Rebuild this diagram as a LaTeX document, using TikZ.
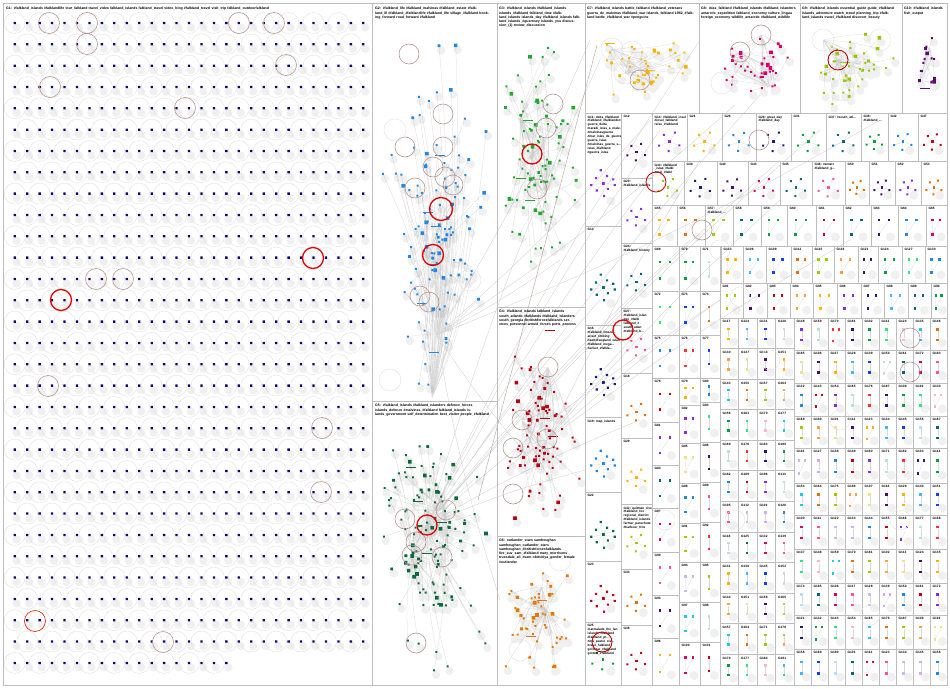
\documentclass[tikz,border=0pt]{standalone}
\usepackage{fontspec}
\setmainfont{Liberation Sans}
\usetikzlibrary{calc}
\definecolor{panelc}{HTML}{BDBDBD}
\definecolor{navyc}{HTML}{0A0A6E}
\definecolor{g2c}{HTML}{1E88E5}
\definecolor{g3c}{HTML}{1FAA2E}
\definecolor{g4c}{HTML}{B80010}
\definecolor{g5c}{HTML}{0C6B3C}
\definecolor{g6c}{HTML}{E67700}
\definecolor{g7c}{HTML}{F7B500}
\definecolor{g8c}{HTML}{D0006F}
\definecolor{g9c}{HTML}{97C500}
\definecolor{g10c}{HTML}{5C0A6E}
\definecolor{brownc}{HTML}{B89494}
\definecolor{pal0}{HTML}{4B0A6E}
\definecolor{pal1}{HTML}{00667A}
\definecolor{pal2}{HTML}{1E88E5}
\definecolor{pal3}{HTML}{1A1A7A}
\definecolor{pal4}{HTML}{E07000}
\definecolor{pal5}{HTML}{FFB300}
\definecolor{pal6}{HTML}{D6006E}
\definecolor{pal7}{HTML}{C00010}
\definecolor{pal8}{HTML}{00A03C}
\definecolor{pal9}{HTML}{9ACD00}
\definecolor{pal10}{HTML}{3FB8FF}
\definecolor{pal11}{HTML}{FF4FA0}
\definecolor{pal12}{HTML}{8A2BE2}
\definecolor{pal13}{HTML}{2BE87A}
\definecolor{pal14}{HTML}{FFA040}
\definecolor{pal15}{HTML}{1040FF}
\definecolor{pal16}{HTML}{C9B8F0}
\definecolor{pal17}{HTML}{A8ECD0}
\definecolor{pal18}{HTML}{F8B8C8}
\definecolor{pal19}{HTML}{F0E080}
\definecolor{pal20}{HTML}{B8DCF8}
\definecolor{pal21}{HTML}{D8A8F8}
\definecolor{pal22}{HTML}{FF3030}
\definecolor{pal23}{HTML}{20C8E8}
\tikzset{
  panel/.style={draw=panelc, line width=0.9pt},
  vx/.style={rectangle, inner sep=0pt, minimum size=#1, draw=none},
  vx/.default=2.4pt,
  lnk/.style={draw=gray!30, line width=0.25pt},
  longlnk/.style={draw=gray!35, line width=0.35pt},
  faint/.style={draw=gray!22, line width=0.45pt},
  brownring/.style={draw=brownc, line width=0.6pt},
  redring/.style={draw=red!90!black, line width=1.3pt},
  shd/.style={fill=black, opacity=0.06},
  ttl/.style={anchor=north west, inner sep=0pt, font=\fontsize{3.5}{4.3}\selectfont\bfseries, align=left, text width=#1},
  ttl/.default=100pt,
  clab/.style={anchor=north west, inner sep=0pt, font=\fontsize{3.2}{3.9}\selectfont\bfseries, align=left},
}
% cluster: name, cx, cy, sx, sy, N, color, seed
\newcommand\gclust[8]{%
  \pgfmathsetseed{#8}%
  \foreach \i in {1,...,#6}{%
    \pgfmathsetmacro\px{#2+#4*rand*(0.25+0.75*rnd)}%
    \pgfmathsetmacro\py{#3+#5*rand*(0.25+0.75*rnd)}%
    \coordinate (#1n\i) at (\px,\py);
  }%
  \draw[lnk] \foreach \i in {3,6,...,#6}{(#1n\i) to[bend left=6] (#1h0)};
  \draw[lnk] \foreach \i in {1,4,...,#6}{(#1n\i) to[bend left=6] (#1h1)};
  \draw[lnk] \foreach \i in {2,5,...,#6}{(#1n\i) to[bend right=6] (#1h2)};
  \fill[shd] \foreach \i in {1,...,#6}{(#1n\i) ++(2,4.5) circle (4.2)};
  \fill[#7] \foreach \i in {1,...,#6}{(#1n\i) ++(-1,-1) rectangle ++(2,2)};
  \fill[#7] \foreach \i in {5,12,...,#6}{(#1n\i) ++(-1.8,-1.8) rectangle ++(3.6,3.6)};
  \fill[#7] \foreach \i in {2,9,...,#6}{(#1n\i) ++(-1.4,-1.4) rectangle ++(2.8,2.8)};
}
% cell: x1,y1,x2,y2,name,color,type,label
\newcommand\gcell[8]{%
  \draw[panel] (#1,#2) rectangle (#3,#4);
  \pgfmathsetmacro\cellw{#3-#1}%
  \pgfmathsetmacro\cellh{#4-#2}%
  \pgfmathsetmacro\cellr{0.3*min(\cellw,\cellh)}%
  \fill[shd] (#1+0.72*\cellw,#2+0.78*\cellh) circle (4.5);
  \ifnum#7=0
    \node[vx=2.4pt, fill=#6] (#5a) at (#1+0.45*\cellw,#2+0.36*\cellh) {};
    \node[vx=2.4pt, fill=#6] (#5b) at (#1+0.45*\cellw,#2+0.68*\cellh) {};
    \draw[lnk] (#5a) -- (#5b);
  \fi
  \ifnum#7=1
    \node[vx=2.4pt, fill=#6] (#5a) at (#1+0.3*\cellw,#2+0.36*\cellh) {};
    \node[vx=2.4pt, fill=#6] (#5b) at (#1+0.66*\cellw,#2+0.36*\cellh) {};
    \node[vx=2.6pt, fill=#6] (#5c) at (#1+0.3*\cellw,#2+0.72*\cellh) {};
    \draw[lnk] (#5a) -- (#5c) (#5b) -- (#5c);
  \fi
  \ifnum#7=2
    \node[vx=2.8pt, fill=#6] (#5a) at (#1+0.5*\cellw,#2+0.6*\cellh) {};
    \foreach \ang/\rad in {20/1.0,95/0.9,160/1.05,230/0.85,300/1.0}{%
      \coordinate (#5l\ang) at ($(#5a)+(\ang:{\rad*\cellr})$);
    }
    \draw[lnk] \foreach \ang in {20,95,160,230,300}{(#5a) -- (#5l\ang)};
    \fill[#6] \foreach \ang in {20,95,160,230,300}{(#5l\ang) ++(-1,-1) rectangle ++(2,2)};
  \fi
  \ifnum#7=3
    \node[vx=3pt, fill=#6] (#5a) at (#1+0.5*\cellw,#2+0.62*\cellh) {};
    \foreach \ang/\rad in {10/1.1,50/0.7,85/1.2,130/0.9,170/1.1,215/0.8,260/1.2,300/0.75,340/1.0}{%
      \coordinate (#5l\ang) at ($(#5a)+(\ang:{\rad*\cellr})$);
    }
    \draw[lnk] \foreach \ang in {10,50,85,130,170,215,260,300,340}{(#5a) -- (#5l\ang)};
    \fill[#6] \foreach \ang in {10,50,85,130,170,215,260,300,340}{(#5l\ang) ++(-1.1,-1.1) rectangle ++(2.2,2.2)};
  \fi
  \node[clab] (#5t) at (#1+2.5,#2+2.5) {#8};
}
\begin{document}
\begin{tikzpicture}[x=1pt,y=-1pt]
\useasboundingbox (0,0) rectangle (950,688);
\fill[white] (0,0) rectangle (950,688);

% ---------- long connectors crossing panels
\coordinate (g5h0) at (427,525);
\coordinate (g5h1) at (412,555);
\coordinate (g5h2) at (445,510);
\coordinate (g2h0) at (432,398);
\coordinate (g2h1) at (437,335);
\coordinate (g2h2) at (428,262);
\coordinate (g4h0) at (547,440);
\coordinate (g4h1) at (522,420);
\coordinate (g4h2) at (548,367);
\foreach \ex/\ey [count=\n] in {700/40,760/95,820/130,650/180,690/240,600/300,640/420,585/470,720/300,660/130,600/60,780/160}{
  \coordinate (ea\n) at (\ex,\ey);
}
\draw[longlnk] \foreach \n in {1,...,12}{(g5h0) to[bend left=4] (ea\n)};
\foreach \ex/\ey [count=\n] in {590/40,735/105,560/260,650/120,880/120,540/470,500/600}{
  \coordinate (eb\n) at (\ex,\ey);
}
\draw[longlnk] \foreach \n in {1,...,7}{(g2h1) to[bend right=4] (eb\n)};
\foreach \ex/\ey [count=\n] in {700/160,780/200,720/300,850/240,640/330}{
  \coordinate (ec\n) at (\ex,\ey);
}
\draw[longlnk] \foreach \n in {1,...,5}{(g4h0) to[bend left=3] (ec\n)};
\coordinate (pk1) at (597,45);
\coordinate (pk2) at (478,500);
\draw[draw=brownc!80, line width=0.5pt] (pk1) -- (pk2);

% ---------- G1 grid (30 full rows + a partial last row)
\fill[shd] \foreach \r in {0,...,29}{\foreach \c in {0,...,28}{({14.7+12.45*\c+2},{23+21.33*\r+4.5}) circle (4.2)}};
\fill[shd] \foreach \c in {0,...,17}{({14.7+12.45*\c+2},{23+21.33*30+4.5}) circle (4.2)};
\draw[faint] \foreach \r in {0,...,29}{\foreach \c in {0,2,...,27}{({14.7+12.45*\c+12.45*mod(\r,2)},{23+21.33*\r}) circle (10.5)}};
\draw[faint] \foreach \c in {0,2,...,17}{({14.7+12.45*\c},{23+21.33*30}) circle (10.5)};
\fill[navyc] \foreach \r in {0,...,29}{\foreach \c in {0,...,28}{({14.7+12.45*\c-1.15},{23+21.33*\r-1.15}) rectangle ++(2.3,2.3)}};
\fill[navyc] \foreach \c in {0,...,17}{({14.7+12.45*\c-1.15},{23+21.33*30-1.15}) rectangle ++(2.3,2.3)};
\draw[brownring] \foreach \cx/\cy in {49/23,87/23,239/23,274/23,87/44,286/65,50/87,185/108,96/279,123/279,48/386,322/428,321/492,163/642}{(\cx,\cy) circle (10.5)};
\draw[draw=red!60!brown, line width=0.7pt] (35,621) circle (10.5);
\draw[redring] (313,258) circle (10.5);
\draw[redring] (61,300) circle (10.5);

% ---------- clusters
\begin{scope}
\clip (372,30) rectangle (497,401);
\gclust{g2}{435}{215}{58}{178}{110}{g2c}{11}
\end{scope}
\coordinate (g3h0) at (532,154);
\coordinate (g3h1) at (545,195);
\coordinate (g3h2) at (520,120);
\begin{scope}
\clip (497,30) rectangle (585,307);
\gclust{g3}{540}{165}{42}{130}{85}{g3c}{23}
\end{scope}
\begin{scope}
\clip (497,335) rectangle (585,536);
\gclust{g4}{542}{430}{42}{100}{78}{g4c}{37}
\end{scope}
\begin{scope}
\clip (372,420) rectangle (497,685);
\gclust{g5}{430}{548}{60}{130}{125}{g5c}{41}
\end{scope}
\coordinate (g6h0) at (542,587);
\coordinate (g6h1) at (546,611);
\coordinate (g6h2) at (546,611);
\begin{scope}
\clip (497,565) rectangle (585,685);
\gclust{g6}{542}{620}{38}{60}{50}{g6c}{53}
\end{scope}
\coordinate (g7h0) at (612,49);
\coordinate (g7h1) at (640,70);
\coordinate (g7h2) at (625,73);
\begin{scope}
\clip (585,24) rectangle (699,113);
\gclust{g7}{642}{66}{52}{40}{42}{g7c}{61}
\end{scope}
\coordinate (g8h0) at (740,52);
\coordinate (g8h1) at (769,87);
\coordinate (g8h2) at (761,35);
\begin{scope}
\clip (699,24) rectangle (800,113);
\gclust{g8}{752}{68}{46}{40}{38}{g8c}{71}
\end{scope}
\coordinate (g9h0) at (838,60);
\coordinate (g9h1) at (853,63);
\coordinate (g9h2) at (823,40);
\begin{scope}
\clip (800,24) rectangle (902,113);
\gclust{g9}{852}{68}{46}{40}{40}{g9c}{83}
\end{scope}
\coordinate (g10h0) at (925,60);
\coordinate (g10h1) at (920,80);
\coordinate (g10h2) at (930,50);
\begin{scope}
\clip (902,24) rectangle (947,113);
\gclust{g10}{925}{68}{18}{36}{16}{g10c}{97}
\end{scope}

% label bars
\foreach \bx/\by/\bc in {440/155/g2c,436/226/g2c,422/303/g2c,434/352/g2c,428/212/g2c,433/264/g2c,528/120/g3c,521/178/g3c,530/200/g3c,550/330/g4c,545/418/g4c,553/436/g4c,411/467/g5c,418/501/g5c,427/553/g5c,442/522/g5c,542/600/g6c,531/636/g6c,610/43/g7c,650/70/g7c,845/62/g9c,925/88/g10c}{
  \draw[\bc, line width=0.7pt] (\bx-5,\by) -- (\bx+5,\by);
}

% rings in clusters
\draw[brownring] \foreach \cx/\cy in {409/54,443/114,405/147,443/147,433/167,445/177,453/185,415/188,420/296,429/302,553/104,546/128,537/189,548/367,522/420,547/439,513/448,513/494,405/519,446/510,416/542,412/555,442/557,416/643,761/35,740/52}{(\cx,\cy) circle (10)};
\draw[faint] \foreach \cx/\cy in {612/49,632/52,625/73,643/72,722/83,745/68,823/40,853/63,843/90,395/130,390/380,470/280,560/560,520/650,880/40}{(\cx,\cy) circle (11)};
\draw[redring] (441,209) circle (11.5);
\draw[redring] (433,255) circle (10.5);
\draw[redring] (532,154) circle (10);
\draw[redring] (427,525) circle (10);
\draw[red!75!black, line width=0.9pt] (838,60) circle (10);

% ---------- main panels
\draw[panel] (3,3) rectangle (947,685);
\draw[panel] (3,3) rectangle (372,685);
\draw[panel] (372,3) rectangle (497,401);
\draw[panel] (372,401) rectangle (497,685);
\draw[panel] (497,3) rectangle (585,307);
\draw[panel] (497,307) rectangle (585,536);
\draw[panel] (497,536) rectangle (585,685);
\draw[panel] (585,3) rectangle (699,113);
\draw[panel] (699,3) rectangle (800,113);
\draw[panel] (800,3) rectangle (902,113);
\draw[panel] (902,3) rectangle (947,113);

\node[ttl=300pt] (t1) at (6,7) {G1: \#falkland\_islands \#falklandlife tour\_falkland travel\_video falkland\_islands falkland\_travel video\_blog \#falkland\_travel visit\_trip falkland\_outdoorfalkland};
\node[ttl=118pt] (t2) at (375,7) {G2: \#falkland\_life \#falkland\_malvinas \#falkland\_estate \#falkland\_ill \#falkland\_\#falklandlife \#falkland\_life village\_\#falkland booking\_forward road\_forward \#falkland};
\node[ttl=84pt] (t3) at (499,7) {G3: \#falkland\_islands \#falkland\_islands islands\_\#falkland falkland\_time \#falkland\_islands islands\_day \#falkland\_islands falkland\_islands\_\#guernsey islands\_you discussion\_(1) review\_discussion};
\node[ttl=84pt] (t4) at (499,310) {G4: \#falkland\_islands falkland\_islands south\_atlantic \#falklands \#falkland\_islanders south\_georgia \#britishforcesfalklands services\_personnel armed\_forces ports\_process};
\node[ttl=120pt] (t5) at (375,404) {G5: \#falkland\_islands \#falkland\_islanders defence\_forces islands\_defence \#malvinas\_\#falkland falkland\_islands islands\_government self\_determination best\_visitor people\_\#falkland};
\node[ttl=84pt] (t6) at (499,539) {G6: outlander\_stars samheughan samheughan\_outlander\_stars samheughan\_\#britishforcesfalklands fire\_suv\_sam\_\#falkland mary\_morrisons truesdale\_all\_\#sam obitsiriya\_gender\_female \#outlander};
\node[ttl=110pt] (t7) at (587,7) {G7: \#falkland\_islands battle\_falkland \#falkland\_veterans guerra\_de\_malvinas \#falkland\_war islands\_falkland 1982\_\#falkland battle\_\#falkland\_war \#penguins};
\node[ttl=97pt] (t8) at (701,7) {G8: islas\_falkland \#falkland\_islands \#falkland\_islanders antarctic\_expedition falkland\_economy culture\_lingua foreign\_economy wildlife\_antarctic \#falkland\_wildlife};
\node[ttl=97pt] (t9) at (802,7) {G9: \#falkland\_islands essential\_guide guide\_\#falkland islands\_adventure watch\_travel planning\_trip \#falkland\_islands travel\_\#falkland discover\_beauty};
\node[ttl=42pt] (t10) at (904,7) {G10: \#falkland\_islands fish\_output};

% ---------- left columns of the small-group area
\gcell{585}{113}{621}{226}{cl1}{pal12}{3}{G11: delta\_\#falkland\\\#falkland\_\#falklanders\\guerra\_delta\\maradi\_islas\_a\_malv...\\\#malvinasguerra\\\#mar\_islas\_de\_guerra\\guerra\_islas\\\#malvinas\_guerra\_s...\\islas\_\#falkland\\\#guerra\_islas}
\gcell{585}{226}{621}{325}{cl2}{pal1}{3}{G13}
\gcell{585}{325}{621}{417}{cl3}{pal3}{3}{G16\\\#falkland\_\#mara...\\ariset\_striking\\heartofengland\_islan\\\#falkland\_mega...\\\#ariset\_\#falkla...}
\gcell{585}{417}{621}{492}{cl4}{pal2}{3}{G19: map\_islands}
\gcell{585}{492}{621}{561}{cl5}{g5c}{3}{G22}
\gcell{585}{561}{621}{622}{cl6}{pal7}{3}{G23}
\gcell{585}{622}{621}{685}{cl7}{pal8}{2}{G25\\marmalade\_the\_lan\\islands\_\#falkland\\\#falkland\_pl...\\\#ma\_pastel\_sta...\\bravo\_falkland\\goldstar\_\#falkland\\golden\_\#falkland}
\gcell{621}{113}{652}{178}{cm1}{pal0}{2}{G12}
\gcell{621}{178}{652}{243}{cm2}{pal12}{2}{G20:\\\#falkland\_islands}
\gcell{621}{243}{652}{308}{cm3}{pal1}{2}{G24:\\\#falkland\_history}
\gcell{621}{308}{652}{373}{cm4}{pal11}{2}{G27:\\\#falkland\_islan\\day\_\#falkl\\falkland\_\#\\south\_atlan\\\#falkland\_b...}
\gcell{621}{373}{652}{438}{cm5}{pal4}{2}{G18}
\gcell{621}{438}{652}{504}{cm6}{pal5}{2}{G29}
\gcell{621}{504}{652}{569}{cm7}{pal9}{2}{G32: quitman\_river\\\#falkland\_fox\\regional\_district\\\#falkland\_islands\\farmer\_parachute\\\#harbour\_frite}
\gcell{621}{569}{652}{625}{cm8}{pal4}{2}{G33}
\gcell{621}{625}{652}{685}{cm9}{pal7}{2}{G36}

% row A
\foreach \xa/\xb/\k/\lab [count=\cc] in {652/687/12/{G14: \#falkland\_insel\\\#insel\_falkland\\reise\_\#falkland},687/722/5/G21,722/756/2/G26,756/791/3/{G28: great\_day\\\#falkland\_day},791/826/8/G31,826/861/1/{G37: \#south\_atl...},861/888/8/{G38:\\\#falkland\_...},888/918/2/G42,918/947/7/G47}{
  \gcell{\xa}{113}{\xb}{161}{ra\cc}{pal\k}{2}{\lab}
}
% row B
\foreach \xa/\xb/\k/\lab [count=\cc] in {652/684/9/{G34: \#falkland\\\_islas\_\#falkl\\\#mal\_\#falkl},684/717/3/G39,717/748/0/G40,748/780/6/G43,780/812/1/G45,812/845/11/{G46: \#antarc\\\#falkland\_g...},845/869/4/G50,869/895/0/G51,895/921/12/G52,921/947/4/G53}{
  \gcell{\xa}{161}{\xb}{205}{rb\cc}{pal\k}{2}{\lab}
}
% row C
\foreach \xa/\xb/\k/\lab [count=\cc] in {652/677/5/G55,677/705/4/G56,705/733/9/{G57:\\\#falkland\_...},733/761/1/G58,761/787/8/G59,787/816/8/G60,816/843/7/G61,843/871/1/G62,871/898/3/G63,898/926/2/G64,926/947/6/G65}{
  \gcell{\xa}{205}{\xb}{246}{rc\cc}{pal\k}{1}{\lab}
}
% sub-columns a, b, c
\foreach \ya/\yb [count=\rr] in {246/291,291/335,335/378,378/422,422/465,465/508,508/552,552/595,595/638,638/685}{
  \pgfmathtruncatemacro\k{mod(\rr*5+3,16)}
  \pgfmathtruncatemacro\num{66+\rr*3}
  \gcell{652}{\ya}{679}{\yb}{sa\rr}{pal\k}{1}{G\num}
}
\foreach \ya/\yb [count=\rr] in {246/291,291/335,335/378,378/405,405/443,443/483,483/523,523/562,562/602,602/642,642/685}{
  \pgfmathtruncatemacro\k{mod(\rr*7+1,24)}
  \pgfmathtruncatemacro\num{67+\rr*3}
  \gcell{679}{\ya}{700}{\yb}{sb\rr}{pal\k}{1}{G\num}
}
\foreach \ya/\yb [count=\rr] in {246/291,291/335,335/378,378/402,402/442,442/482,482/522,522/562,562/602,602/642,642/685}{
  \pgfmathtruncatemacro\k{mod(\rr*11+6,24)}
  \pgfmathtruncatemacro\num{68+\rr*3}
  \gcell{700}{\ya}{720}{\yb}{sc\rr}{pal\k}{0}{G\num}
}
% rows D, E
\foreach \xa/\xb [count=\cc] in {721/743,743/766,766/791,791/812,812/834,834/858,858/878,878/902,902/925,925/947}{
  \pgfmathtruncatemacro\k{mod(\cc*5,16)}
  \pgfmathtruncatemacro\num{100+\cc*3}
  \gcell{\xa}{246}{\xb}{283}{rd\cc}{pal\k}{1}{G\num}
}
\foreach \xa/\xb [count=\cc] in {720/743,743/767,767/790,790/813,813/837,837/861,861/884,884/908,908/931,931/947}{
  \pgfmathtruncatemacro\k{mod(\cc*7+2,16)}
  \pgfmathtruncatemacro\num{80+\cc}
  \gcell{\xa}{283}{\xb}{318}{re\cc}{pal\k}{1}{G\num}
}
% block A
\foreach \rr in {0,...,11}{
  \foreach \xa/\xb [count=\cc] in {720/738.5,738.5/757,757/775.5,775.5/794}{
    \pgfmathsetmacro\ya{318+30.58*\rr}
    \pgfmathsetmacro\yb{\ya+30.58}
    \pgfmathtruncatemacro\k{mod(\rr*9+\cc*5,24)}
    \pgfmathtruncatemacro\num{110+mod(\rr*13+\cc*7,90)}
    \gcell{\xa}{\ya}{\xb}{\yb}{bA\rr x\cc}{pal\k}{0}{G\num}
  }
}
% block B
\foreach \ya/\yb [count=\rr] in {318/350,350/383,383/416,416/448,448/483,483/515,515/549,549/583,583/615,615/649,649/685}{
  \foreach \xa/\xb [count=\cc] in {794/811,811/828,828/845,845/862,862/879,879/896,896/913,913/930,930/947}{
    \pgfmathtruncatemacro\k{mod(\rr*7+\cc*5,24)}
    \pgfmathtruncatemacro\num{100+mod(\rr*37+\cc*11,90)}
    \pgfmathtruncatemacro\tp{mod(\rr*5+\cc*3,7)==0 ? 1 : 0}
    \gcell{\xa}{\ya}{\xb}{\yb}{bB\rr x\cc}{pal\k}{\tp}{G\num}
  }
}
% rings in small cells
\draw[brownring] \foreach \cx/\cy in {759/140,910/338,910/372,702/230,640/80}{(\cx,\cy) circle (10)};
\draw[red!80!black, line width=0.8pt] (656,182) circle (10);
\draw[redring] (623,330) circle (10);
\draw[red!80!black, line width=0.9pt] (602,642) circle (10);
\draw[faint] \foreach \cx/\cy in {740/297,770/360,735/520,840/420,720/250,900/520,870/615,665/520}{(\cx,\cy) circle (10)};
\end{tikzpicture}
\end{document}
